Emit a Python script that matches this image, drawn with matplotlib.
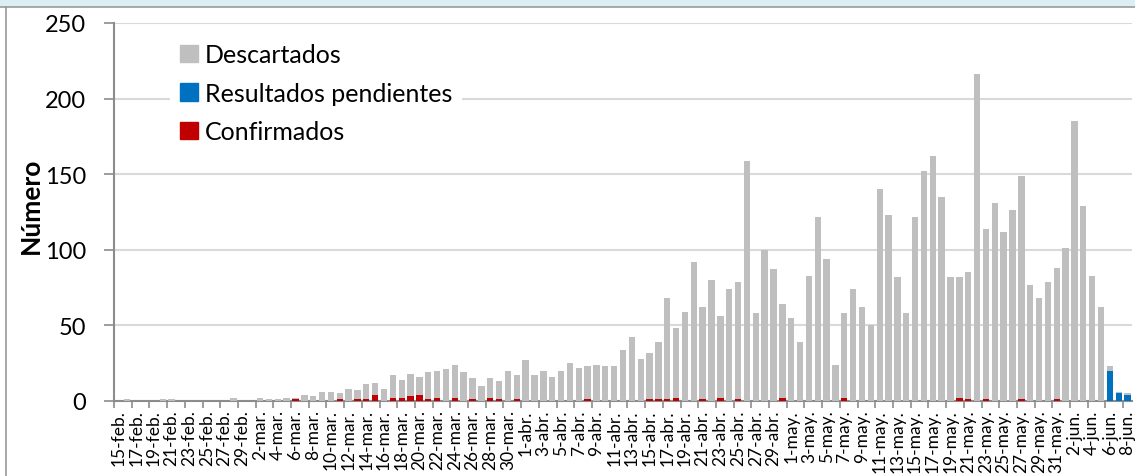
import matplotlib
matplotlib.use("Agg")
import matplotlib.pyplot as plt
import pandas as pd
from matplotlib.patches import Patch

# Categorías: días del 15-feb al 8-jun
meses = {2: "feb", 3: "mar", 4: "abr", 5: "may", 6: "jun"}
fechas = pd.date_range("2020-02-15", "2020-06-08", freq="D")
etiquetas = [f"{d.day}-{meses[d.month]}." for d in fechas]

# Descartados (gris)
descartados = (
    # feb 15-29
    [0, 1, 0, 0, 0, 1, 1, 0, 0, 0, 0, 0, 0, 2, 0]
    # mar
    + [0, 2, 1, 1, 2, 1, 4, 3, 6, 6, 4, 8, 6, 10, 8, 8, 15, 12, 15, 12,
       18, 18, 21, 22, 19, 14, 10, 13, 12, 20, 16]
    # abr
    + [27, 17, 20, 16, 20, 25, 22, 22, 24, 23, 23, 34, 42, 28, 31, 38, 67,
       46, 59, 92, 61, 80, 54, 74, 78, 159, 58, 100, 87, 62]
    # may
    + [55, 39, 83, 122, 94, 24, 56, 74, 62, 50, 140, 123, 82, 58, 122, 152,
       162, 135, 82, 80, 84, 216, 113, 131, 112, 126, 148, 77, 68, 79, 87]
    # jun
    + [101, 185, 129, 83, 62, 3, 1, 1]
)

# Confirmados (rojo)
confirmados = (
    [0] * 15
    + [0, 0, 0, 0, 0, 1, 0, 0, 0, 0, 1, 0, 1, 1, 4, 0, 2, 2, 3, 4,
       1, 2, 0, 2, 0, 1, 0, 2, 1, 0, 1]
    + [0, 0, 0, 0, 0, 0, 0, 1, 0, 0, 0, 0, 0, 0, 1, 1, 1, 2, 0, 0,
       1, 0, 2, 0, 1, 0, 0, 0, 0, 2]
    + [0, 0, 0, 0, 0, 0, 2, 0, 0, 0, 0, 0, 0, 0, 0, 0, 0, 0, 0, 2,
       1, 0, 1, 0, 0, 0, 1, 0, 0, 0, 1]
    + [0, 0, 0, 0, 0, 0, 0, 0]
)

# Resultados pendientes (azul)
pendientes = [0] * 112 + [20, 5, 4]

gris = "#BFBFBF"
azul = "#0070C0"
rojo = "#C00000"
fuente = "Lato"

fig = plt.figure(figsize=(11.35, 4.77), dpi=100)
ax = fig.add_axes([114 / 1135, 1 - 402 / 477, 1018 / 1135, 378 / 477])

x = list(range(len(etiquetas)))
base2 = [c + p for c, p in zip(confirmados, pendientes)]
ax.bar(x, confirmados, width=0.72, color=rojo, zorder=3)
ax.bar(x, pendientes, width=0.72, bottom=confirmados, color=azul, zorder=3)
ax.bar(x, descartados, width=0.72, bottom=base2, color=gris, zorder=3)

ax.set_xlim(-0.5, len(etiquetas) - 0.5)
ax.set_ylim(0, 250)
ax.set_yticks([0, 50, 100, 150, 200, 250])
ax.yaxis.grid(True, color="#D9D9D9", linewidth=1.5, zorder=0)

# Etiquetas cada 2 días, marcas entre categorías
ax.set_xticks(x[::2])
ax.set_xticklabels(etiquetas[::2], rotation=90, fontsize=12.5, family=fuente)
ax.set_xticks([i - 0.5 for i in range(0, len(etiquetas) + 1, 2)], minor=True)
ax.tick_params(axis="x", which="major", length=0, pad=6)
ax.tick_params(axis="x", which="minor", length=5, color="#8C8C8C", width=1.2)
ax.tick_params(axis="y", length=7, color="#8C8C8C", width=1.2, pad=13,
               labelsize=17)
for t in ax.get_yticklabels():
    t.set_family(fuente)

for lado in ["top", "right"]:
    ax.spines[lado].set_visible(False)
for lado in ["left", "bottom"]:
    ax.spines[lado].set_color("#8C8C8C")
    ax.spines[lado].set_linewidth(1.5)

ax.set_ylabel("Número", fontsize=19, fontweight="bold", family=fuente)
ax.yaxis.set_label_coords(-0.070, 0.52)

handles = [Patch(color=gris, label="Descartados"),
           Patch(color=azul, label="Resultados pendientes"),
           Patch(color=rojo, label="Confirmados")]
leg = ax.legend(handles=handles, loc="upper left",
                bbox_to_anchor=(0.043, 1.006), frameon=True, fancybox=False,
                facecolor="white", edgecolor="none", framealpha=1,
                prop={"family": fuente, "size": 18}, handlelength=0.7,
                handleheight=0.7, handletextpad=0.28, labelspacing=0.62,
                borderpad=0.4)
leg.set_zorder(5)

# Marco exterior
fig.patches.append(plt.Rectangle((0, 1 - 7 / 477), 1, 7 / 477,
                                 transform=fig.transFigure,
                                 color="#DAEEF3", zorder=0))
fig.lines.append(plt.Line2D([0, 1], [1 - 7.5 / 477] * 2,
                            transform=fig.transFigure, color="#9A9A9A",
                            linewidth=1.2))
fig.lines.append(plt.Line2D([6 / 1135] * 2, [0, 1 - 7.5 / 477],
                            transform=fig.transFigure, color="#9A9A9A",
                            linewidth=1.2))

fig.savefig("out.png", dpi=100)
